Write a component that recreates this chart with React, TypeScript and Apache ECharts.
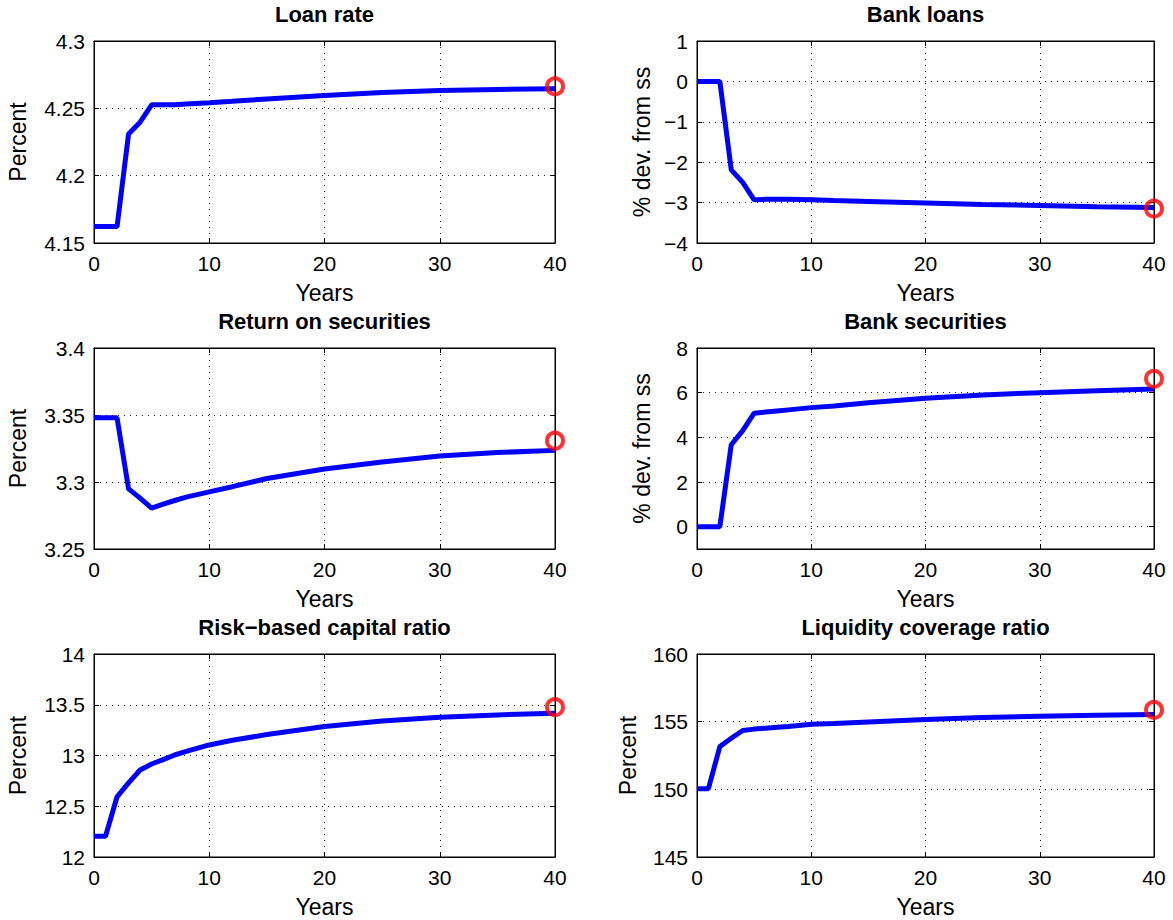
import React, { useEffect, useRef } from "react";
import * as echarts from "echarts";

// ---- data ----
const years = [0, 1, 2, 3, 4, 5, 6, 7, 8, 10, 12, 15, 20, 25, 30, 35, 40];

const loanRate = [4.1622, 4.1622, 4.1622, 4.231, 4.2397, 4.2526, 4.2526, 4.2527, 4.2532, 4.2541, 4.2552, 4.257, 4.2596, 4.2617, 4.2632, 4.264, 4.2645];
const bankLoans = [0, 0, 0, -2.19, -2.5, -2.93, -2.92, -2.92, -2.92, -2.93, -2.95, -2.97, -3.01, -3.05, -3.07, -3.1, -3.12];
const returnSecurities = [3.3479, 3.3479, 3.3479, 3.2949, 3.288, 3.2805, 3.2835, 3.2862, 3.2887, 3.2926, 3.2965, 3.3026, 3.3097, 3.315, 3.3194, 3.322, 3.3236];
const bankSecurities = [0, 0, 0, 3.67, 4.3, 5.08, 5.13, 5.18, 5.23, 5.33, 5.4, 5.55, 5.75, 5.9, 6.0, 6.09, 6.16];
const capitalRatio = [12.204, 12.204, 12.593, 12.73, 12.857, 12.916, 12.96, 13.005, 13.04, 13.104, 13.15, 13.206, 13.285, 13.34, 13.377, 13.4, 13.417];
const lcr = [150.05, 150.05, 153.16, 153.77, 154.35, 154.45, 154.52, 154.58, 154.64, 154.81, 154.87, 154.98, 155.16, 155.3, 155.4, 155.48, 155.53];

// red circle markers at the final year
const markerYear = 40;
const markerValues = [4.2663, -3.15, 3.3308, 6.62, 13.476, 155.87];

const titles = ["Loan rate", "Bank loans", "Return on securities", "Bank securities", "Risk\u2212based capital ratio", "Liquidity coverage ratio"];
const yNames = ["Percent", "% dev. from ss", "Percent", "% dev. from ss", "Percent", "Percent"];
const xName = "Years";

const yMin = [4.15, -4, 3.25, -1, 12, 145];
const yMax = [4.3, 1, 3.4, 8, 14, 160];
const yInterval = [0.05, 1, 0.05, 1, 0.5, 5];
const yTickValues: (number[] | null)[] = [null, null, null, [0, 2, 4, 6, 8], null, null];

const seriesValues = [loanRate, bankLoans, returnSecurities, bankSecurities, capitalRatio, lcr];

// ---- layout ----
const colLeft = [94, 697];
const colWidth = [461, 457];
const rowTop = [41, 348, 654];
const rowHeight = [202, 201, 203];
const yNameGap = [65, 44, 65, 44, 65, 58];

const FONT = "'Liberation Sans', Arial, Helvetica, sans-serif";
const TICK_FS = 21;
const NAME_FS = 23;

function fmt(v: number) {
  const s = String(+Number(v).toFixed(4));
  return s.replace("-", "\u2212");
}

export default function App() {
  const ref = useRef<HTMLDivElement>(null);
  useEffect(() => {
    if (!ref.current) return;
    const chart = echarts.init(ref.current, null, { renderer: "svg" });
    const grids: any[] = [];
    const xAxes: any[] = [];
    const yAxes: any[] = [];
    const series: any[] = [];
    const graphics: any[] = [];
    const gridLine = { show: true, lineStyle: { color: "#222", width: 1, type: [1, 5] } };
    const tick = { show: true, inside: true, length: 5, lineStyle: { color: "#000" } };
    for (let i = 0; i < 6; i++) {
      const c = i % 2;
      const r = Math.floor(i / 2);
      grids.push({
        left: colLeft[c],
        top: rowTop[r],
        width: colWidth[c],
        height: rowHeight[r],
        show: true,
        borderColor: "#000",
        borderWidth: 1,
        backgroundColor: "#fff",
      });
      xAxes.push({
        type: "value",
        gridIndex: i,
        position: "bottom",
        min: 0,
        max: 40,
        interval: 10,
        name: xName,
        nameLocation: "middle",
        nameGap: 38,
        nameTextStyle: { fontFamily: FONT, fontSize: NAME_FS, color: "#000" },
        axisLine: { show: true, onZero: false, lineStyle: { color: "#000", width: 1 } },
        axisTick: tick,
        axisLabel: { margin: 10, fontFamily: FONT, fontSize: TICK_FS, color: "#000", formatter: fmt },
        splitLine: gridLine,
      });
      xAxes.push({
        type: "value",
        gridIndex: i,
        position: "top",
        min: 0,
        max: 40,
        interval: 10,
        axisLine: { show: true, onZero: false, lineStyle: { color: "#000", width: 1 } },
        axisTick: tick,
        axisLabel: { show: false },
        splitLine: { show: false },
      });
      const tv = yTickValues[i];
      const yTick = tv ? { ...tick, customValues: tv } : tick;
      yAxes.push({
        type: "value",
        gridIndex: i,
        position: "left",
        min: yMin[i],
        max: yMax[i],
        interval: yInterval[i],
        name: yNames[i],
        nameLocation: "middle",
        nameGap: yNameGap[i],
        nameTextStyle: { fontFamily: FONT, fontSize: NAME_FS, color: "#000" },
        axisLine: { show: true, onZero: false, lineStyle: { color: "#000", width: 1 } },
        axisTick: yTick,
        axisLabel: tv
          ? { margin: 9, fontFamily: FONT, fontSize: TICK_FS, color: "#000", formatter: fmt, customValues: tv }
          : { margin: 9, fontFamily: FONT, fontSize: TICK_FS, color: "#000", formatter: fmt },
        splitLine: gridLine,
      });
      yAxes.push({
        type: "value",
        gridIndex: i,
        position: "right",
        min: yMin[i],
        max: yMax[i],
        interval: yInterval[i],
        axisLine: { show: true, onZero: false, lineStyle: { color: "#000", width: 1 } },
        axisTick: yTick,
        axisLabel: { show: false },
        splitLine: { show: false },
      });
      const vals = seriesValues[i];
      series.push({
        type: "line",
        xAxisIndex: 2 * i,
        yAxisIndex: 2 * i,
        data: years.map((y, k) => [y, vals[k]]),
        showSymbol: false,
        symbol: "none",
        lineStyle: { color: "#0000ff", width: 5 },
        clip: false,
        z: 3,
      });
      series.push({
        type: "scatter",
        xAxisIndex: 2 * i,
        yAxisIndex: 2 * i,
        data: [[markerYear, markerValues[i]]],
        symbol: "circle",
        symbolSize: 16,
        itemStyle: { color: "rgba(0,0,0,0)", borderColor: "#ff0000", borderWidth: 4 },
        clip: false,
        z: 4,
      });
      graphics.push({
        type: "text",
        x: colLeft[c] + colWidth[c] / 2,
        y: rowTop[r] - 27,
        style: {
          text: titles[i],
          fontFamily: FONT,
          fontSize: 22,
          fontWeight: "bold",
          fill: "#000",
          textAlign: "center",
          textVerticalAlign: "middle",
        },
      });
    }
    chart.setOption({
      animation: false,
      backgroundColor: "#fff",
      grid: grids,
      xAxis: xAxes,
      yAxis: yAxes,
      series,
      graphic: graphics,
    });
    return () => chart.dispose();
  }, []);
  return (
    <div
      ref={ref}
      style={{ position: "fixed", left: 0, top: 0, width: 1173, height: 920, background: "#fff" }}
    />
  );
}
